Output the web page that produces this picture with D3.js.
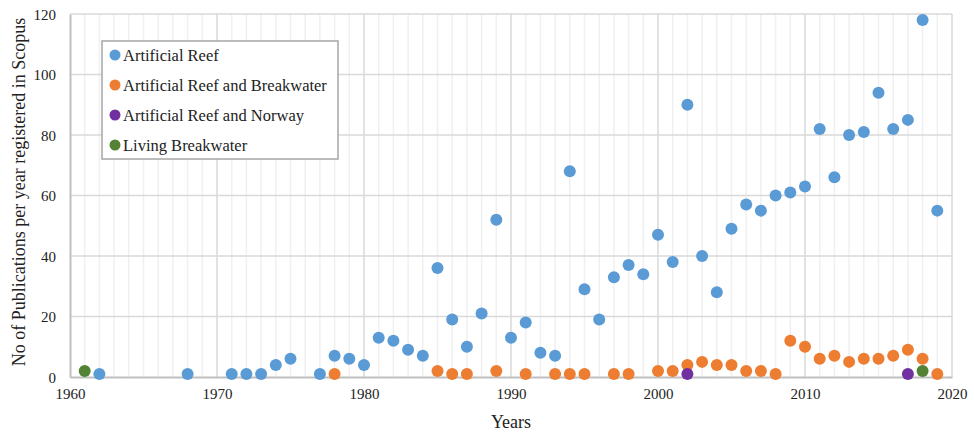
<!DOCTYPE html>
<html>
<head>
<meta charset="utf-8">
<script src="https://cdn.jsdelivr.net/npm/d3@7"></script>
<style>
  body { margin: 0; background: #fff; }
</style>
</head>
<body>
<div id="chart"></div>
<script>
// Publications per year registered in Scopus
const reefYears = [1962, 1968, 1971, 1972, 1973, 1974, 1975, 1977, 1978, 1979, 1980, 1981, 1982, 1983, 1984, 1985, 1986, 1987, 1988, 1989, 1990, 1991, 1992, 1993, 1994, 1995, 1996, 1997, 1998, 1999, 2000, 2001, 2002, 2003, 2004, 2005, 2006, 2007, 2008, 2009, 2010, 2011, 2012, 2013, 2014, 2015, 2016, 2017, 2018, 2019];
const reefValues = [1, 1, 1, 1, 1, 4, 6, 1, 7, 6, 4, 13, 12, 9, 7, 36, 19, 10, 21, 52, 13, 18, 8, 7, 68, 29, 19, 33, 37, 34, 47, 38, 90, 40, 28, 49, 57, 55, 60, 61, 63, 82, 66, 80, 81, 94, 82, 85, 118, 55];

const breakwaterYears = [1978, 1985, 1986, 1987, 1989, 1991, 1993, 1994, 1995, 1997, 1998, 2000, 2001, 2002, 2003, 2004, 2005, 2006, 2007, 2008, 2009, 2010, 2011, 2012, 2013, 2014, 2015, 2016, 2017, 2018, 2019];
const breakwaterValues = [1, 2, 1, 1, 2, 1, 1, 1, 1, 1, 1, 2, 2, 4, 5, 4, 4, 2, 2, 1, 12, 10, 6, 7, 5, 6, 6, 7, 9, 6, 1];

const norwayYears = [2002, 2017];
const norwayValues = [1, 1];

const livingYears = [1961, 2018];
const livingValues = [2, 2];

const seriesNames = ["Artificial Reef", "Artificial Reef and Breakwater", "Artificial Reef and Norway", "Living Breakwater"];
const seriesColors = ["#5B9BD5", "#ED7D31", "#7030A0", "#548235"];

const xTicks = [1960, 1970, 1980, 1990, 2000, 2010, 2020];
const yTicks = [0, 20, 40, 60, 80, 100, 120];

const series = [
    { name: seriesNames[0], color: seriesColors[0], years: reefYears, values: reefValues },
    { name: seriesNames[1], color: seriesColors[1], years: breakwaterYears, values: breakwaterValues },
    { name: seriesNames[2], color: seriesColors[2], years: norwayYears, values: norwayValues },
    { name: seriesNames[3], color: seriesColors[3], years: livingYears, values: livingValues }
];

const FONT = "'Times New Roman', 'Liberation Serif', 'DejaVu Serif', serif";

const W = 974, H = 434;
const margin = { top: 14, right: 22, bottom: 57, left: 70 };
const width = W - margin.left - margin.right;
const height = H - margin.top - margin.bottom;

const svg = d3.select("#chart").append("svg")
    .attr("width", W).attr("height", H)
    .attr("font-family", FONT);

const g = svg.append("g")
    .attr("transform", `translate(${margin.left},${margin.top})`);

const x = d3.scaleLinear().domain([1960, 2020]).range([0, width]);
const y = d3.scaleLinear().domain([0, 120]).range([height, 0]);

// minor vertical gridlines every year
g.append("g").selectAll("line")
    .data(d3.range(1961, 2020).filter(d => d % 10 !== 0))
    .enter().append("line")
    .attr("x1", d => x(d)).attr("x2", d => x(d))
    .attr("y1", 0).attr("y2", height)
    .attr("stroke", "#F0F0F0").attr("stroke-width", 1.5);

// major gridlines
g.append("g").selectAll("line")
    .data(xTicks.slice(1))
    .enter().append("line")
    .attr("x1", d => x(d)).attr("x2", d => x(d))
    .attr("y1", 0).attr("y2", height)
    .attr("stroke", "#D9D9D9").attr("stroke-width", 1.5);

g.append("g").selectAll("line")
    .data(yTicks.slice(1))
    .enter().append("line")
    .attr("x1", 0).attr("x2", width)
    .attr("y1", d => y(d)).attr("y2", d => y(d))
    .attr("stroke", "#D9D9D9").attr("stroke-width", 1.5);

// axes
const xAxis = g.append("g")
    .attr("transform", `translate(0,${height})`)
    .call(d3.axisBottom(x).tickValues(xTicks).tickFormat(d3.format("d")).tickSize(0).tickPadding(11));
const yAxis = g.append("g")
    .call(d3.axisLeft(y).tickValues(yTicks).tickSize(0).tickPadding(14));

[xAxis, yAxis].forEach(a => {
    a.attr("font-family", FONT).attr("font-size", 15);
    a.select(".domain").attr("stroke", "#BFBFBF").attr("stroke-width", 2);
    a.selectAll("text").attr("fill", "#222");
});
yAxis.selectAll("text").attr("dy", "0.34em");

// points
series.forEach(s => {
    g.append("g").selectAll("circle")
        .data(s.years.map((yr, i) => ({ year: yr, value: s.values[i] })))
        .enter().append("circle")
        .attr("cx", d => x(d.year))
        .attr("cy", d => y(d.value))
        .attr("r", 6)
        .attr("fill", s.color);
});

// axis titles
svg.append("text")
    .attr("x", margin.left + width / 2).attr("y", 428)
    .attr("text-anchor", "middle")
    .attr("font-size", 18).attr("fill", "#222")
    .text("Years");

svg.append("text")
    .attr("transform", "translate(25,192) rotate(-90)")
    .attr("text-anchor", "middle")
    .attr("font-size", 18).attr("fill", "#222")
    .text("No of Publications per year registered in Scopus");

// legend
const legend = svg.append("g").attr("transform", "translate(102,41)");
legend.append("rect")
    .attr("width", 236).attr("height", 118)
    .attr("fill", "#fff").attr("stroke", "#A6A6A6").attr("stroke-width", 1.5);

const items = legend.selectAll(".item")
    .data(series)
    .enter().append("g")
    .attr("class", "item")
    .attr("transform", (d, i) => `translate(0,${14 + i * 30})`);

items.append("circle")
    .attr("cx", 13).attr("cy", 0).attr("r", 5.5)
    .attr("fill", d => d.color);
items.append("text")
    .attr("x", 21).attr("y", 0).attr("dy", "0.35em")
    .attr("font-size", 16.5).attr("fill", "#222")
    .text(d => d.name);
</script>
</body>
</html>
